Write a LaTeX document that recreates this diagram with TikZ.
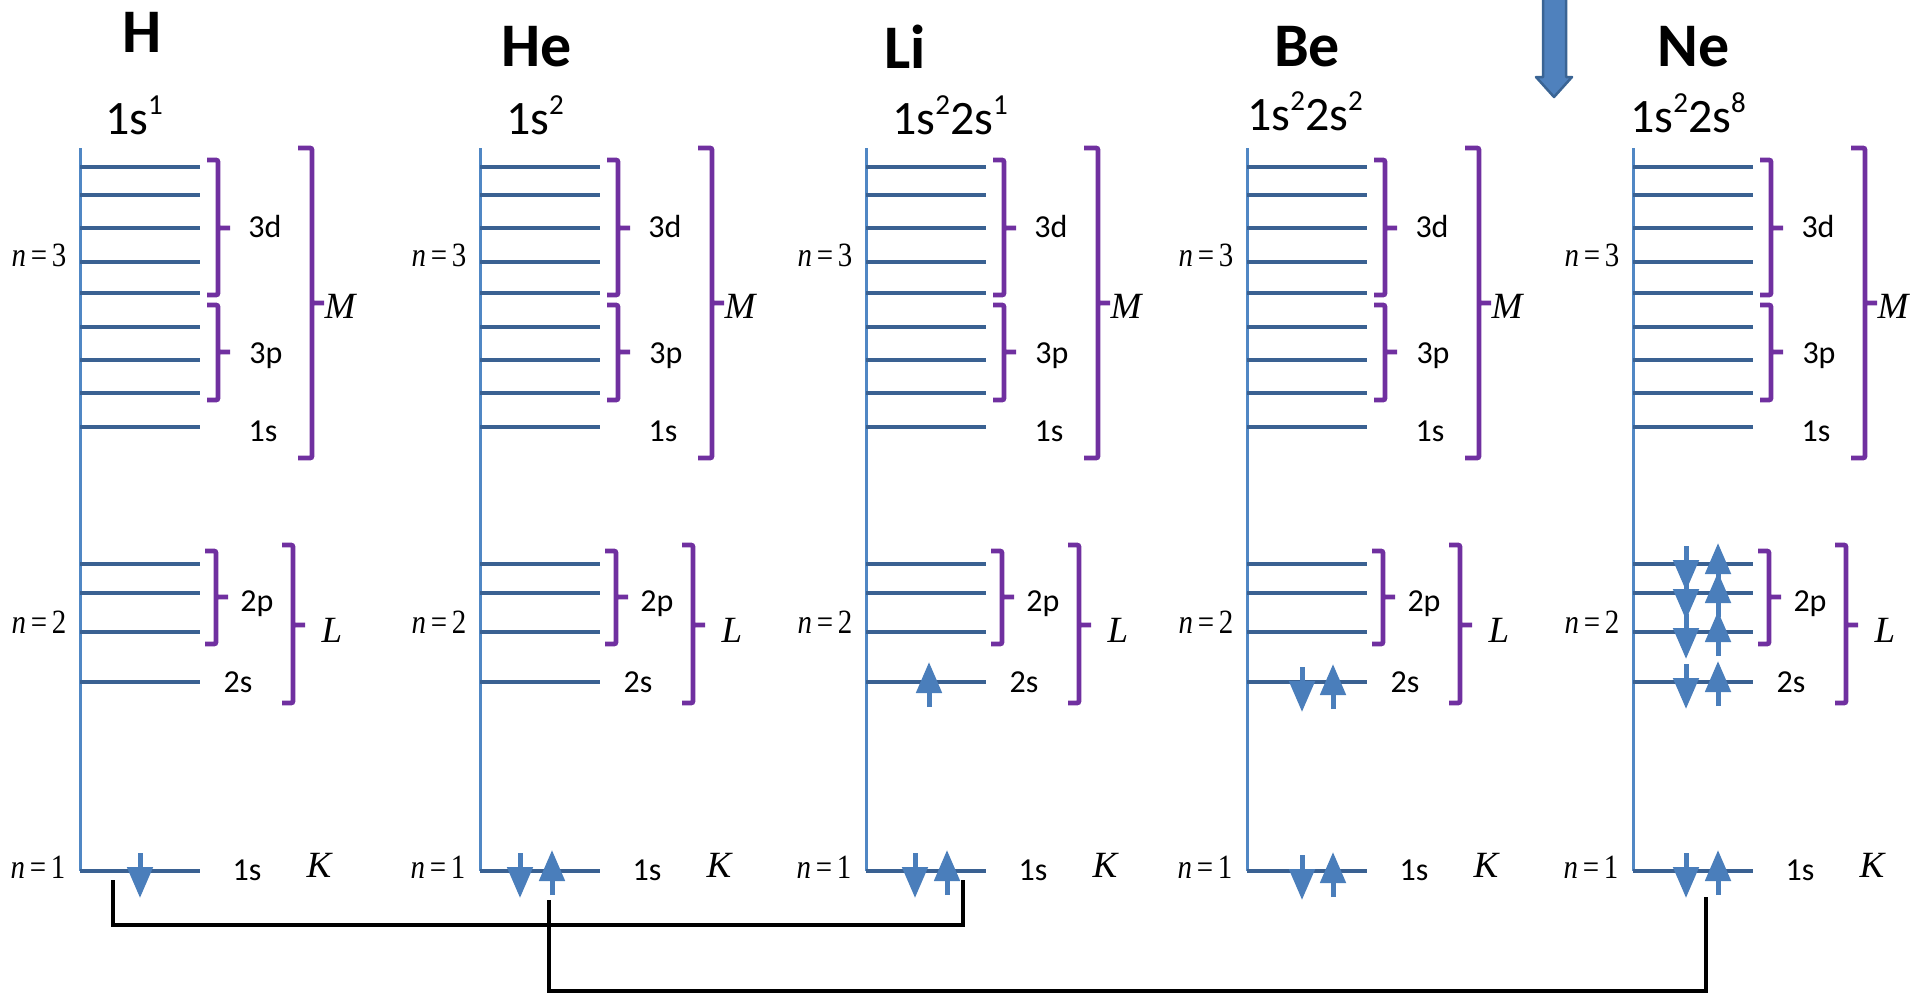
\documentclass[tikz,border=0pt]{standalone}
\usepackage{fontspec}
\setmainfont{Carlito}
\newfontfamily\timesfont{Liberation Serif}
\usetikzlibrary{arrows.meta,positioning}
\definecolor{axisblue}{HTML}{5087C4}
\definecolor{levelblue}{HTML}{3A6192}
\definecolor{shellpurple}{HTML}{7030A0}
\definecolor{spinblue}{HTML}{4A7EBB}
\definecolor{bigblue}{HTML}{4F81BD}
\definecolor{bigedge}{HTML}{3A6494}
\newcommand\sps[1]{\raisebox{0.42em}{\fontsize{29}{30}\selectfont #1}}

\begin{document}
\begin{tikzpicture}[x=1pt,y=-1pt,
    axis/.style={draw=axisblue,line width=3pt},
    level/.style={draw=levelblue,line width=3.5pt},
    shell/.style={draw=shellpurple,line width=4.8pt,rounded corners=2pt},
    spin/.style={draw=spinblue,line width=5pt,-{Triangle[width=25pt,length=31pt]}},
    link/.style={draw=black,line width=4pt},
    elem/.style={font=\bfseries\fontsize{62}{66}\selectfont},
    config/.style={font=\fontsize{48}{50}\selectfont},
    sub/.style={font=\fontsize{32}{36}\selectfont},
    shellname/.style={font=\timesfont\itshape\fontsize{37}{40}\selectfont},
    qn/.style={font=\timesfont\fontsize{34}{38}\selectfont}]

\useasboundingbox (0,0) rectangle (1911,994);

\foreach \x/\el/\tx/\ty/\cfg/\cx/\cy in {
    80/H/142/32/{1s\sps{1}}/134/115,
    480/He/537/47/{1s\sps{2}}/535/115,
    866/Li/905/47/{1s\sps{2}2s\sps{1}}/950/115,
    1247/Be/1307/47/{1s\sps{2}2s\sps{2}}/1305/111,
    1633/Ne/1694/47/{1s\sps{2}2s\sps{8}}/1688/113}{
  \node[elem]   (\el-name) at (\tx,\ty) {\el};
  \node[config] (\el-cfg)  at (\cx,\cy) {\cfg};
  \draw[axis] (\x,148) -- (\x,871);
  \foreach \y in {167,195,228,262,293,327,360,393,427,564,593,632,682,871}
    \draw[level] (\x,\y) -- ++(120,0);
  % subshell and shell brackets
  \foreach \bx/\ya/\yb/\ym/\arm in {138/160/295/228/11, 138/305/400/352/11,
      136/551/644/597/11, 232/148/458/303/14, 213/545/703/625/11}
    \draw[shell] ({\x+\bx-\arm},\ya) -- ({\x+\bx},\ya) -- ({\x+\bx},\yb) -- ({\x+\bx-\arm},\yb)
                 ({\x+\bx},\ym) -- ++(12,0);
  \node[sub] (\el-3d)  at ({\x+185},226) {3d};
  \node[sub] (\el-3p)  at ({\x+186},356) {3p};
  \node[sub] (\el-3s)  at ({\x+183},431) {1s};
  \node[sub] (\el-2p)  at ({\x+177},604) {2p};
  \node[sub] (\el-2s)  at ({\x+158},682) {2s};
  \node[sub] (\el-1s)  at ({\x+167},870) {1s};
  \node[shellname] (\el-M) at ({\x+260},306) {M};
  \node[shellname] (\el-L) at ({\x+252},630) {L};
  \node[shellname] (\el-K) at ({\x+239},865) {K};
  \node[qn] (\el-n3) at ({\x-41},255) {\scalebox{0.85}[1]{\textit{n}\,=\,3}};
  \node[qn] (\el-n2) at ({\x-41},622) {\scalebox{0.85}[1]{\textit{n}\,=\,2}};
  \node[qn] (\el-n1) at ({\x-42},867) {\scalebox{0.85}[1]{\textit{n}\,=\,1}};
}

% spin down
\foreach \x/\y in {140/871, 520/871, 915/871, 1302/873, 1302/685,
    1686/871, 1686/682, 1686/632, 1686/593, 1686/564}
  \draw[spin] (\x,{\y-18}) -- (\x,{\y+27});
% spin up
\foreach \x/\y in {552/871, 947/871, 929/683, 1333/873, 1333/685,
    1718/871, 1718/682, 1718/632, 1718/593, 1718/564}
  \draw[spin] (\x,{\y+24}) -- (\x,{\y-21});

% big arrow at the top
\draw[fill=bigblue,draw=bigedge,line width=2.5pt,line join=round]
  (1543,-3) -- (1566,-3) -- (1566,77) -- (1572,77) -- (1554,97) -- (1536,77) -- (1543,77) -- cycle;

% links
\coordinate (hK)  at (113,880);
\coordinate (liK) at (963,880);
\coordinate (heK) at (549,900);
\coordinate (neK) at (1706,897);
\draw[link] (hK) -- ++(0,45) -| (liK);
\draw[link] (heK) -- ++(0,91) -| (neK);
\end{tikzpicture}
\end{document}
